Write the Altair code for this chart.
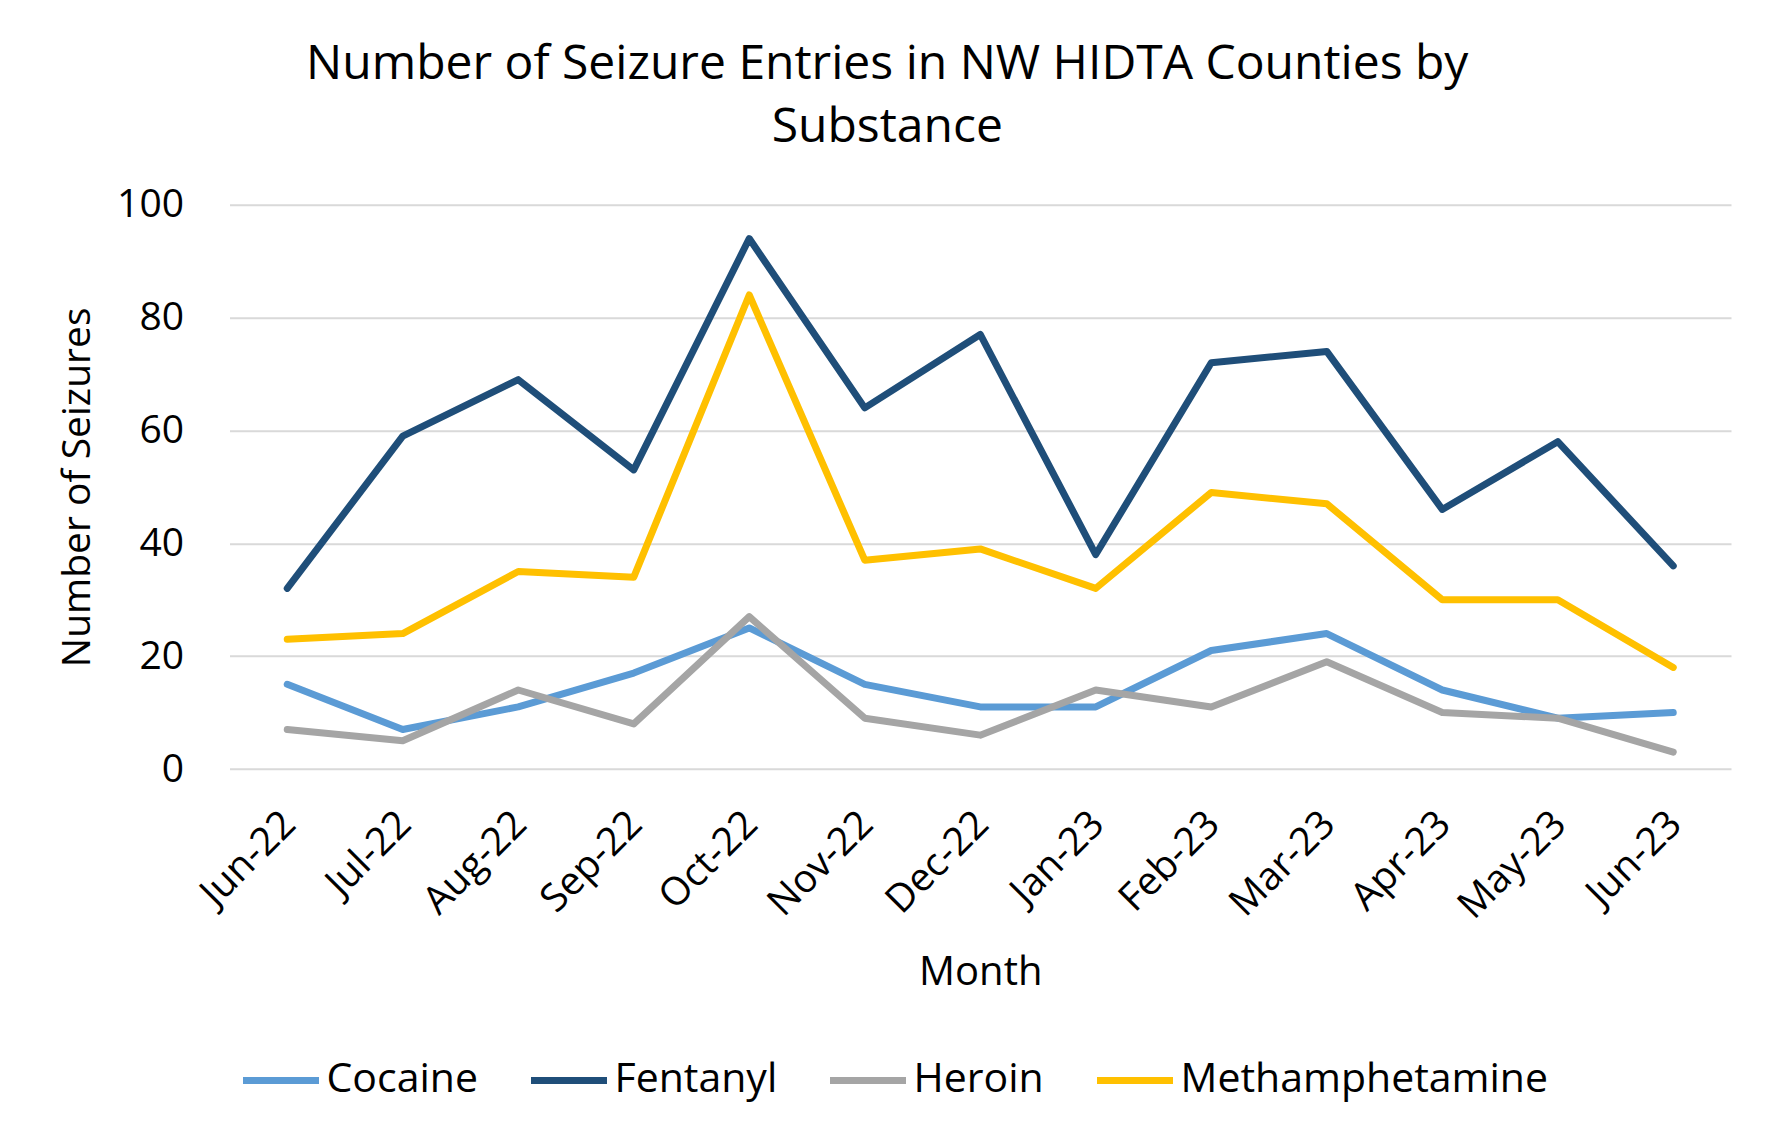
import altair as alt
import pandas as pd

months = ["Jun-22", "Jul-22", "Aug-22", "Sep-22", "Oct-22", "Nov-22", "Dec-22",
          "Jan-23", "Feb-23", "Mar-23", "Apr-23", "May-23", "Jun-23"]
cocaine = [15, 7, 11, 17, 25, 15, 11, 11, 21, 24, 14, 9, 10]
fentanyl = [32, 59, 69, 53, 94, 64, 77, 38, 72, 74, 46, 58, 36]
heroin = [7, 5, 14, 8, 27, 9, 6, 14, 11, 19, 10, 9, 3]
meth = [23, 24, 35, 34, 84, 37, 39, 32, 49, 47, 30, 30, 18]

substances = ["Cocaine", "Fentanyl", "Heroin", "Methamphetamine"]
colors = ["#5B9BD5", "#1F4E79", "#A5A5A5", "#FFC000"]
series = [cocaine, fentanyl, heroin, meth]

rows = []
for name, vals in zip(substances, series):
    for m, v in zip(months, vals):
        rows.append({"Month": m, "Substance": name, "Seizures": v})
df = pd.DataFrame(rows)

FONT = "Open Sans"
W, H = 1501.5, 564.3

chart = alt.Chart(df).mark_line(strokeWidth=7, strokeCap="round", strokeJoin="round").encode(
    x=alt.X("Month:O", sort=months,
            scale=alt.Scale(type="point", padding=0.5),
            axis=alt.Axis(title="Month", labelAngle=315, labelAlign="right",
                          labelBaseline="top", labelPadding=35, labelOffset=-12,
                          ticks=False, domain=False, grid=False,
                          labelFontSize=39, labelFont=FONT, labelColor="#000000",
                          titleFontSize=40, titleFont=FONT, titleFontWeight="normal",
                          titleColor="#000000", titleX=W / 2, titleY=203,
                          titleBaseline="middle", titleAlign="center")),
    y=alt.Y("Seizures:Q",
            scale=alt.Scale(domain=[0, 100], nice=False),
            axis=alt.Axis(title="Number of Seizures", values=[0, 20, 40, 60, 80, 100],
                          ticks=False, domain=False, grid=True,
                          gridColor="#D9D9D9", gridWidth=2,
                          labelFontSize=39, labelFont=FONT, labelColor="#000000",
                          labelPadding=46,
                          titleFontSize=39, titleFont=FONT, titleFontWeight="normal",
                          titleColor="#000000", titleAngle=270, titleX=-152,
                          titleY=H / 2, titleBaseline="middle", titleAlign="center")),
    color=alt.Color("Substance:N",
                    scale=alt.Scale(domain=substances, range=colors),
                    legend=alt.Legend(title=None, orient="none", direction="horizontal",
                                      legendX=10, legendY=834,
                                      symbolType="stroke", symbolSize=5776,
                                      symbolStrokeWidth=7, labelOffset=4,
                                      columnPadding=38, labelFontSize=41,
                                      labelLimit=600,
                                      labelFont=FONT, labelColor="#000000")),
).properties(
    width=W, height=H,
    title=alt.TitleParams(text=["Number of Seizure Entries in NW HIDTA Counties by", "Substance"],
                          fontSize=48, font=FONT, fontWeight="normal", color="#000000",
                          anchor="middle", dx=-93, offset=34, lineHeight=63),
    autosize=alt.AutoSizeParams(type="none"),
    padding={"left": 221.5, "top": 196.7, "right": 34, "bottom": 359},
    background="white",
).configure_view(stroke=None)

chart.save("out.html", embed_options={"renderer": "svg", "actions": False})
